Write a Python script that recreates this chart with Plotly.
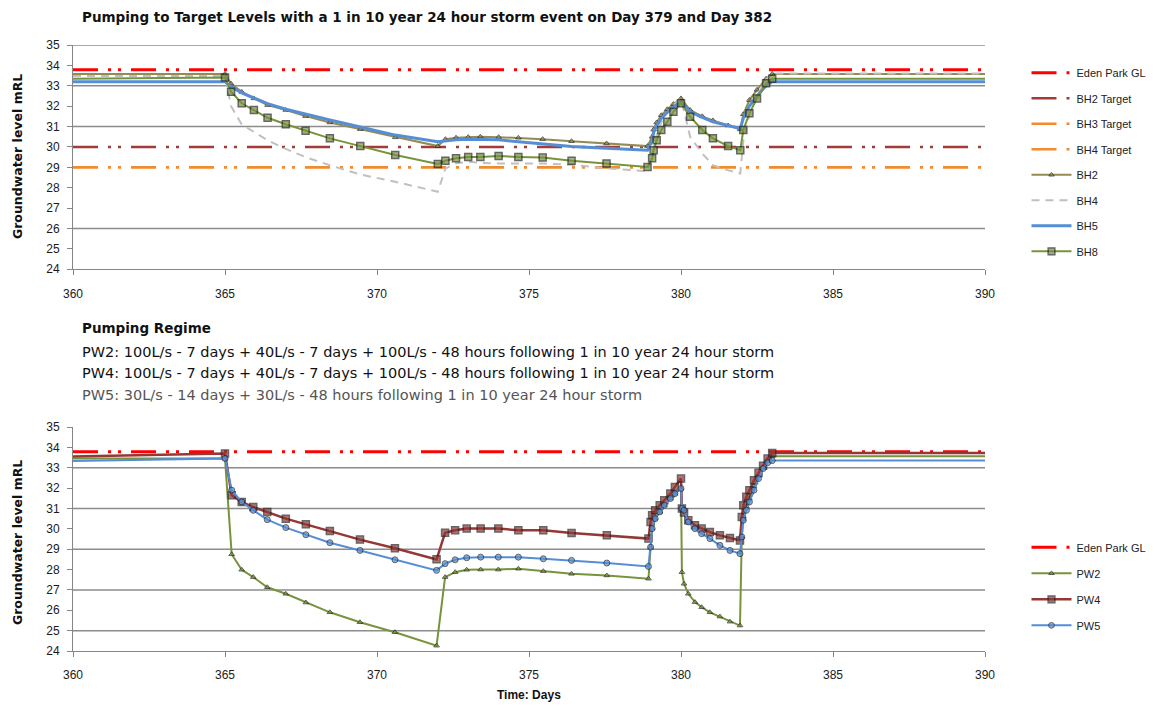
import plotly.graph_objects as go

# ---------------- DATA ----------------
top_title = "Pumping to Target Levels with a 1 in 10 year 24 hour storm event on Day 379 and Day 382"
regime_lines = [
    "Pumping Regime",
    "PW2: 100L/s - 7 days + 40L/s - 7 days + 100L/s - 48 hours following 1 in 10 year 24 hour storm",
    "PW4: 100L/s - 7 days + 40L/s - 7 days + 100L/s - 48 hours following 1 in 10 year 24 hour storm",
    "PW5: 30L/s - 14 days + 30L/s - 48 hours following 1 in 10 year 24 hour storm",
]
x_ticks = [360, 365, 370, 375, 380, 385, 390]
y_ticks = [24, 25, 26, 27, 28, 29, 30, 31, 32, 33, 34, 35]

range_days = [360, 390]
eden_park_gl = [33.78, 33.78]
bh2_target = [30.0, 30.0]
bh3_target = [29.0, 29.0]
bh4_target = [29.0, 29.0]

top_days = [360, 365.0, 365.2, 365.55, 365.95, 366.4, 367.0, 367.65, 368.45, 369.45, 370.6,
            372.0, 372.25, 372.6, 373.0, 373.4, 374.0, 374.65, 375.45, 376.4, 377.55, 378.9,
            379.05, 379.1, 379.2, 379.35, 379.55, 379.75, 380.0,
            380.3, 380.7, 381.05, 381.55, 381.95,
            382.05, 382.25, 382.5, 382.8, 383.0, 390]
bh2 = [33.58, 33.58, 33.1, 32.7, 32.38, 32.05, 31.81, 31.51, 31.2, 30.87, 30.47,
       30.04, 30.38, 30.45, 30.48, 30.5, 30.48, 30.45, 30.38, 30.28, 30.17, 30.04,
       30.5, 30.85, 31.2, 31.55, 31.85, 32.1, 32.38,
       31.81, 31.5, 31.3, 31.05, 30.86,
       31.6, 32.3, 32.8, 33.35, 33.58, 33.58]
bh4 = [33.48, 33.48, 32.0, 31.1, 30.74, 30.33, 29.9, 29.5, 29.1, 28.65, 28.29,
       27.8, 28.94, 29.2, 29.27, 29.22, 29.19, 29.19, 29.19, 29.12, 28.95, 28.81,
       29.5, 30.0, 30.6, 31.2, 31.7, 32.05, 32.38,
       30.5, 29.68, 29.1, 28.85, 28.7,
       30.3, 31.6, 32.5, 33.3, 33.6, 33.6]
bh5 = [33.2, 33.2, 32.95, 32.65, 32.4, 32.12, 31.85, 31.6, 31.32, 30.98, 30.58,
       30.25, 30.3, 30.35, 30.38, 30.38, 30.35, 30.25, 30.15, 30.02, 29.93, 29.84,
       30.3, 30.7, 31.05, 31.4, 31.7, 31.95, 32.2,
       31.72, 31.45, 31.23, 31.05, 30.9,
       31.4, 32.0, 32.5, 33.0, 33.2, 33.2]
bh8 = [33.35, 33.4, 32.71, 32.14, 31.81, 31.43, 31.11, 30.79, 30.42, 30.04, 29.6,
       29.16, 29.32, 29.44, 29.51, 29.51, 29.55, 29.51, 29.48, 29.32, 29.19, 29.02,
       29.44, 29.84, 30.33, 30.83, 31.23, 31.72, 32.14,
       31.48, 30.83, 30.42, 30.04, 29.84,
       30.83, 31.65, 32.38, 33.12, 33.35, 33.35]

bot_days = [360, 365.0, 365.22, 365.55, 365.93, 366.39, 367.0, 367.66, 368.45, 369.44, 370.59,
            371.96, 372.24, 372.57, 372.95, 373.41, 373.99, 374.65, 375.47, 376.4, 377.56, 378.93,
            379.0, 379.05, 379.15, 379.3, 379.45, 379.65, 379.8, 380.0,
            380.03, 380.1, 380.24, 380.46, 380.68, 380.95, 381.28, 381.61, 381.94,
            382.0, 382.05, 382.15, 382.25, 382.4, 382.55, 382.7, 382.85, 383.0, 390]
pw2 = [33.45, 33.45, 28.75, 27.99, 27.63, 27.13, 26.81, 26.38, 25.9, 25.41, 24.92,
       24.26, 27.63, 27.87, 27.99, 28.0, 28.0, 28.04, 27.92, 27.79, 27.71, 27.55,
       29.1, 30.01, 30.5, 30.83, 31.16, 31.49, 31.73, 31.98,
       27.87, 27.3, 26.81, 26.4, 26.15, 25.9, 25.69, 25.44, 25.25,
       29.6, 30.6, 31.1, 31.5, 32.1, 32.6, 33.05, 33.4, 33.57, 33.57]
pw4 = [33.55, 33.7, 31.65, 31.32, 31.07, 30.83, 30.5, 30.22, 29.89, 29.47, 29.05,
       28.5, 29.81, 29.93, 30.01, 30.01, 30.01, 29.93, 29.93, 29.8, 29.68, 29.52,
       30.34, 30.67, 30.91, 31.16, 31.4, 31.73, 32.06, 32.47,
       31.0, 30.8, 30.42, 30.17, 30.01, 29.84, 29.68, 29.55, 29.43,
       30.58, 31.16, 31.57, 31.9, 32.39, 32.75, 33.1, 33.45, 33.72, 33.72]
pw5 = [33.33, 33.46, 31.9, 31.32, 30.91, 30.45, 30.06, 29.71, 29.32, 28.94, 28.48,
       27.96, 28.29, 28.48, 28.58, 28.61, 28.61, 28.61, 28.53, 28.45, 28.32, 28.15,
       29.1, 30.01, 30.5, 30.83, 31.16, 31.49, 31.73, 31.98,
       31.0, 30.91, 30.34, 30.01, 29.76, 29.52, 29.19, 28.94, 28.78,
       29.6, 30.42, 30.91, 31.32, 31.9, 32.47, 32.96, 33.25, 33.35, 33.35]

top_grid = [35, 33, 31, 26]
bot_grid = [33, 31, 29, 27, 25]

# ---------------- STYLE ----------------
FONT = "Liberation Sans"
WIDE = "DejaVu Sans"
RED = "#FF0000"
BROWN = "#A33B38"
ORANGE = "#F28A2E"
OLIVE = "#948A54"
GREY = "#C0C0C0"
BLUE = "#558ED5"
GREEN = "#77933C"
DARKRED = "#953735"
EDGE = "#262626"
DASH_DD = "25px,10px,3px,7px,3px,10px"


def msizes(n, s):
    return [0] + [s] * (n - 2) + [0]


fig = go.Figure()

# top chart
fig.add_trace(go.Scatter(x=range_days, y=eden_park_gl, mode="lines", name="Eden Park GL",
                         line=dict(color=RED, width=3, dash=DASH_DD), legendgroup="a1"))
fig.add_trace(go.Scatter(x=range_days, y=bh2_target, mode="lines", name="BH2 Target",
                         line=dict(color=BROWN, width=2.5, dash=DASH_DD), legendgroup="a2"))
fig.add_trace(go.Scatter(x=range_days, y=bh3_target, mode="lines", name="BH3 Target",
                         line=dict(color=ORANGE, width=2.5, dash=DASH_DD), legendgroup="a3"))
fig.add_trace(go.Scatter(x=range_days, y=bh4_target, mode="lines", name="BH4 Target",
                         line=dict(color=ORANGE, width=2.5, dash=DASH_DD), legendgroup="a4"))
fig.add_trace(go.Scatter(x=top_days, y=bh2, mode="lines+markers", name="BH2",
                         line=dict(color=OLIVE, width=2),
                         marker=dict(symbol="triangle-up", size=msizes(len(top_days), 5), color=OLIVE,
                                     line=dict(color=EDGE, width=1)), legendgroup="a5"))
fig.add_trace(go.Scatter(x=top_days, y=bh4, mode="lines", name="BH4",
                         line=dict(color=GREY, width=2, dash="8px,6px"), legendgroup="a6"))
fig.add_trace(go.Scatter(x=top_days, y=bh5, mode="lines", name="BH5",
                         line=dict(color=BLUE, width=3), legendgroup="a7"))
fig.add_trace(go.Scatter(x=top_days, y=bh8, mode="lines+markers", name="BH8",
                         line=dict(color=GREEN, width=2),
                         marker=dict(symbol="square", size=msizes(len(top_days), 7), color=GREEN,
                                     line=dict(color=EDGE, width=1.5)), legendgroup="a8"))

# bottom chart
fig.add_trace(go.Scatter(x=range_days, y=eden_park_gl, mode="lines", name="Eden Park GL",
                         line=dict(color=RED, width=3, dash=DASH_DD), xaxis="x2", yaxis="y2",
                         legend="legend2", legendgroup="b1"))
fig.add_trace(go.Scatter(x=bot_days, y=pw2, mode="lines+markers", name="PW2",
                         line=dict(color=GREEN, width=2),
                         marker=dict(symbol="triangle-up", size=msizes(len(bot_days), 5), color=GREEN,
                                     line=dict(color=EDGE, width=1)),
                         xaxis="x2", yaxis="y2", legend="legend2", legendgroup="b2"))
fig.add_trace(go.Scatter(x=bot_days, y=pw4, mode="lines+markers", name="PW4",
                         line=dict(color=DARKRED, width=2.5),
                         marker=dict(symbol="square", size=msizes(len(bot_days), 7), color=DARKRED,
                                     line=dict(color=EDGE, width=1.5)),
                         xaxis="x2", yaxis="y2", legend="legend2", legendgroup="b3"))
fig.add_trace(go.Scatter(x=bot_days, y=pw5, mode="lines+markers", name="PW5",
                         line=dict(color=BLUE, width=2),
                         marker=dict(symbol="circle", size=msizes(len(bot_days), 6), color=BLUE,
                                     line=dict(color=EDGE, width=1)),
                         xaxis="x2", yaxis="y2", legend="legend2", legendgroup="b4"))

axis_common = dict(showline=True, linecolor="#868686", linewidth=1, showgrid=False, zeroline=False,
                   ticks="outside", tickcolor="#868686", ticklen=5,
                   tickfont=dict(family=FONT, size=12, color="#1a1a1a"))
xcommon = dict(axis_common, range=[360, 390], tickvals=x_ticks, ticklabelstandoff=8)
ycommon = dict(axis_common, range=[24, 35], tickvals=y_ticks, ticklabelstandoff=5)

shapes = []
for g in top_grid:
    shapes.append(dict(type="line", xref="x domain", yref="y", x0=0, x1=1, y0=g, y1=g,
                       line=dict(color="#8C8C8C", width=1.5), layer="below"))
for g in bot_grid:
    shapes.append(dict(type="line", xref="x2 domain", yref="y2", x0=0, x1=1, y0=g, y1=g,
                       line=dict(color="#8C8C8C", width=1.5), layer="below"))

annotations = [
    dict(text="<b>" + top_title + "</b>", xref="paper", yref="paper", x=0.008, y=1.0, yshift=28,
         xanchor="left", yanchor="middle", showarrow=False,
         font=dict(family=WIDE, size=13.5, color="#111111")),
    dict(text="<b>Groundwater level mRL</b>", xref="paper", yref="y", x=0, xshift=-56, y=29.5,
         textangle=-90, showarrow=False, xanchor="center", yanchor="middle",
         font=dict(family=WIDE, size=12.5, color="#111111")),
    dict(text="<b>Groundwater level mRL</b>", xref="paper", yref="y2", x=0, xshift=-56, y=29.3,
         textangle=-90, showarrow=False, xanchor="center", yanchor="middle",
         font=dict(family=WIDE, size=12.5, color="#111111")),
    dict(text="<b>Time: Days</b>", xref="paper", yref="paper", x=0.5, y=0, yshift=-44,
         showarrow=False, xanchor="center", yanchor="middle",
         font=dict(family=FONT, size=12, color="#111111")),
]
reg_y = [328, 352, 373, 395]
for i, (t, yy) in enumerate(zip(regime_lines, reg_y)):
    frac = (651 - yy) / 606
    annotations.append(dict(text=("<b>" + t + "</b>") if i == 0 else t, xref="paper", yref="paper",
                            x=0.008, y=frac, xanchor="left", yanchor="middle", showarrow=False,
                            font=dict(family=WIDE, size=14.5 if i else 13.5,
                                      color="#555555" if i == 3 else "#111111")))

fig.update_layout(
    width=1161, height=699,
    margin=dict(l=65, r=184, t=37, b=56),
    paper_bgcolor="white", plot_bgcolor="white",
    xaxis=dict(xcommon, domain=[0, 1], anchor="y"),
    yaxis=dict(ycommon, domain=[0.630, 1.0], anchor="x"),
    xaxis2=dict(xcommon, domain=[0, 1], anchor="y2"),
    yaxis2=dict(ycommon, domain=[0.0, 0.3696], anchor="x2"),
    shapes=shapes,
    annotations=annotations,
    legend=dict(x=1.0455, y=0.978, xanchor="left", yanchor="top", tracegroupgap=6.5, itemwidth=40,
                font=dict(family=FONT, size=11, color="#222222"), bgcolor="rgba(0,0,0,0)"),
    legend2=dict(x=1.0455, y=0.195, xanchor="left", yanchor="top", tracegroupgap=7, itemwidth=40,
                 font=dict(family=FONT, size=11, color="#222222"), bgcolor="rgba(0,0,0,0)"),
    showlegend=True,
)

fig.write_html("out.html")
